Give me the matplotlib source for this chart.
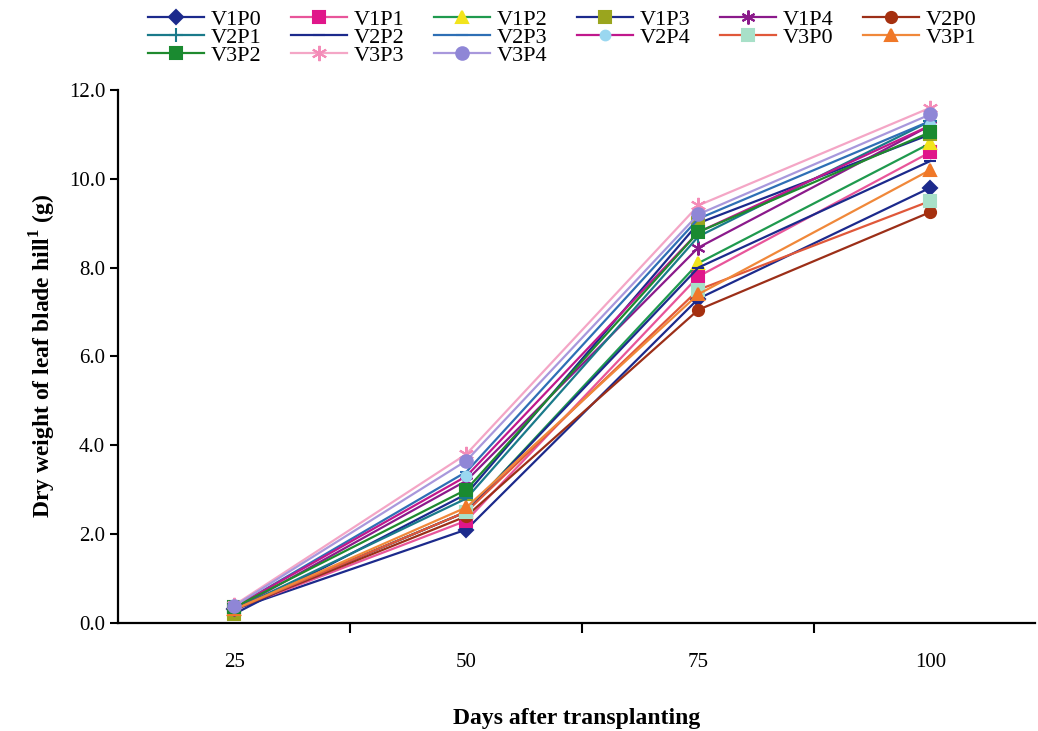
import numpy as np
import matplotlib
matplotlib.use("Agg")
import matplotlib.pyplot as plt

plt.rcParams['font.family'] = ['Liberation Serif', 'DejaVu Serif']

days = ['25', '50', '75', '100']

V1P0 = [0.30, 2.10, 7.30, 9.80]
V1P1 = [0.30, 2.30, 7.80, 10.60]
V1P2 = [0.30, 2.50, 8.10, 10.80]
V1P3 = [0.20, 2.90, 9.00, 11.00]
V1P4 = [0.30, 3.20, 8.45, 11.20]
V2P0 = [0.30, 2.40, 7.05, 9.25]
V2P1 = [0.30, 2.80, 8.70, 11.30]
V2P2 = [0.30, 2.50, 8.00, 10.40]
V2P3 = [0.35, 3.40, 9.10, 11.30]
V2P4 = [0.35, 3.30, 8.80, 11.20]
V3P0 = [0.30, 2.50, 7.50, 9.50]
V3P1 = [0.30, 2.60, 7.40, 10.20]
V3P2 = [0.35, 3.00, 8.80, 11.05]
V3P3 = [0.40, 3.80, 9.40, 11.60]
V3P4 = [0.38, 3.65, 9.20, 11.45]

names = ['V1P0', 'V1P1', 'V1P2', 'V1P3', 'V1P4', 'V2P0', 'V2P1', 'V2P2',
         'V2P3', 'V2P4', 'V3P0', 'V3P1', 'V3P2', 'V3P3', 'V3P4']
series = [V1P0, V1P1, V1P2, V1P3, V1P4, V2P0, V2P1, V2P2,
          V2P3, V2P4, V3P0, V3P1, V3P2, V3P3, V3P4]

# line colour, marker, marker colour, marker size
styles = [
    ('#1c2a8c', 'D', '#1c2a8c', 7),
    ('#e8559a', 's', '#e0168a', 8),
    ('#1f9a4e', '^', '#f2e41c', 8),
    ('#1c2a8c', 's', '#9aa51e', 8),
    ('#8b1a8b', (6, 2, 0), '#8b1a8b', 10),
    ('#9c2f18', 'o', '#a5300f', 8),
    ('#1a7a8a', '+', '#1a7a8a', 10),
    ('#1c2a8c', '_', '#1c2a8c', 9),
    ('#2e6fb5', '_', '#2e6fb5', 9),
    ('#c0188c', 'o', '#9ad7f0', 7),
    ('#e0583a', 's', '#a8e0c8', 8),
    ('#f0883a', '^', '#f07828', 9),
    ('#1f8a2e', 's', '#1a8a30', 8),
    ('#f4a6c6', (6, 2, 0), '#f48cb8', 11),
    ('#a898dc', 'o', '#8f86d6', 9),
]

x = np.arange(1, len(days) + 1)

fig = plt.figure(figsize=(10.38, 7.31), dpi=100)
ax = fig.add_axes([0.114, 0.148, 0.883, 0.729])

handles = []
for name, vals, (lc, mk, mc, ms) in zip(names, series, styles):
    h, = ax.plot(x, vals, color=lc, lw=1.6, marker=mk, markersize=ms,
                 markerfacecolor=mc, markeredgecolor=mc, markeredgewidth=1.5,
                 label=name)
    handles.append(h)

ax.set_xlim(0.5, 4.45)
ax.set_ylim(0, 12)
ax.set_yticks(np.arange(0, 12.1, 2))
ax.set_yticklabels(['%.1f' % v for v in np.arange(0, 12.1, 2)], fontsize=15)
ax.set_xticks(x)
ax.set_xticklabels(days, fontsize=15)
ax.set_xticks([1.5, 2.5, 3.5], minor=True)
ax.tick_params(axis='x', which='major', length=0, pad=22)
ax.tick_params(axis='x', which='minor', length=7, width=1.5, direction='out')
ax.tick_params(axis='y', length=6, width=1.5, direction='out')

for s in ['top', 'right']:
    ax.spines[s].set_visible(False)
for s in ['left', 'bottom']:
    ax.spines[s].set_linewidth(1.6)

ax.set_ylabel('Dry weight of leaf blade hill$^{\\mathregular{1}}$ (g)',
              fontsize=17, fontweight='bold', labelpad=8)
ax.set_xlabel('Days after transplanting', fontsize=17, fontweight='bold', labelpad=26)

# legend filled row by row across 6 columns
order = []
for c in range(6):
    for r in range(3):
        i = r * 6 + c
        if i < len(handles):
            order.append(i)
fig.legend([handles[i] for i in order], [names[i] for i in order],
           ncol=6, loc='upper left', bbox_to_anchor=(0.128, 1.008),
           frameon=False, fontsize=16, handlelength=2.5, handletextpad=0.3,
           columnspacing=1.35, labelspacing=-0.12, borderaxespad=0.3)

fig.savefig('out.png', dpi=100)
